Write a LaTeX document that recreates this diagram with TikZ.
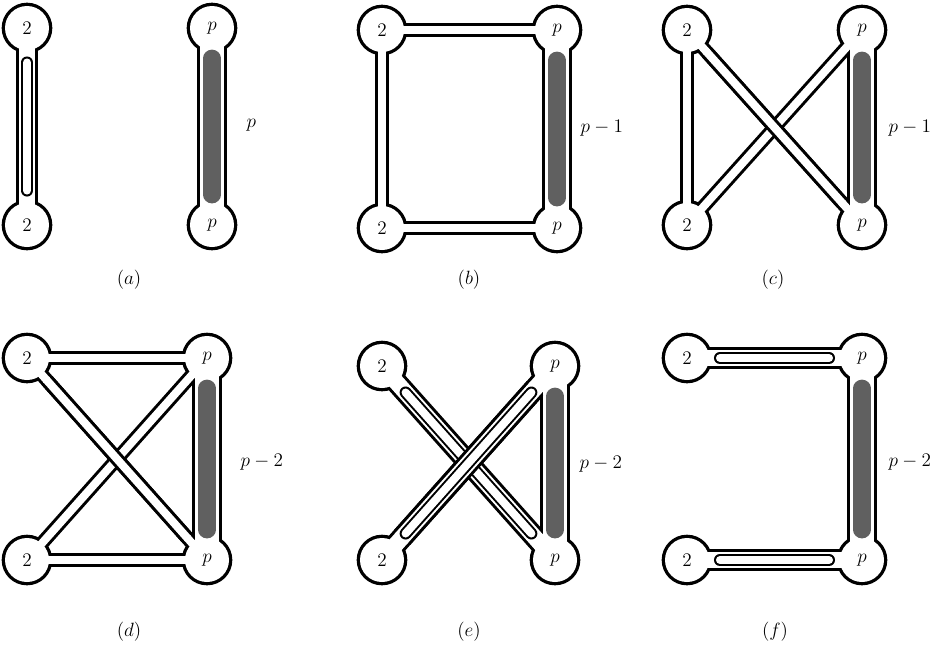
\documentclass[tikz,border=0pt]{standalone}
\usetikzlibrary{calc}
\pgfdeclarelayer{outline}
\pgfdeclarelayer{inside}
\pgfsetlayers{outline,inside,main}
\definecolor{bar}{HTML}{606060}
\tikzset{
  % text of the vertices
  vtx/.style={font=\fontsize{15}{18}\selectfont, inner sep=0pt},
  % labels and captions
  lbl/.style={font=\fontsize{15}{18}\selectfont, anchor=west},
  caption/.style={font=\fontsize{15}{18}\selectfont},
}
% vertex: black disk under, white disk over
\newcommand{\vertex}[3]{%
  \node[vtx] (#1) at (#2) {$#3$};
  \begin{pgfonlayer}{outline}\fill (#1.center) circle (19pt);\end{pgfonlayer}
  \begin{pgfonlayer}{inside}\fill[white] (#1.center) circle (16.5pt);\end{pgfonlayer}
}
% single ribbon
\newcommand{\ribbon}[2]{%
  \begin{pgfonlayer}{outline}\draw[line width=10.5pt] (#1.center) -- (#2.center);\end{pgfonlayer}
  \begin{pgfonlayer}{inside}\draw[white, line width=6pt] (#1.center) -- (#2.center);\end{pgfonlayer}
}
% ribbon passing over a crossing
\newcommand{\overribbon}[3][10.5pt]{%
  \draw[line width=#1, shorten <=17pt, shorten >=17pt] (#2) -- (#3);
  \draw[white, line width=#1-4.5pt, shorten <=16pt, shorten >=16pt] (#2) -- (#3);
}
% double ribbon
\newcommand{\wideribbon}[2]{%
  \begin{pgfonlayer}{outline}\draw[line width=16.5pt] (#1.center) -- (#2.center);\end{pgfonlayer}
  \begin{pgfonlayer}{inside}\draw[white, line width=12pt] (#1.center) -- (#2.center);\end{pgfonlayer}
}
\newcommand{\slit}[2]{%
  \draw[line width=9pt, line cap=round, shorten <=21pt, shorten >=21pt] (#1) -- (#2);
  \draw[white, line width=6pt, line cap=round, shorten <=21pt, shorten >=21pt] (#1) -- (#2);
}
% ribbon with the grey bar
\newcommand{\barribbon}[2]{%
  \begin{pgfonlayer}{outline}\draw[line width=23pt] (#1.center) -- (#2.center);\end{pgfonlayer}
  \begin{pgfonlayer}{inside}\draw[white, line width=18.5pt] (#1.center) -- (#2.center);\end{pgfonlayer}
  \draw[bar, line width=13pt, line cap=round, shorten <=18pt, shorten >=18pt] (#1) -- (#2);
}

\begin{document}
\begin{tikzpicture}[x=0.75pt, y=-0.75pt]
  \useasboundingbox (0,0) rectangle (936,662);

  % (a)
  \vertex{a1}{27,28}{2}
  \vertex{a2}{27,225}{2}
  \vertex{a3}{212,28}{p}
  \vertex{a4}{212,225}{p}
  \wideribbon{a1}{a2}
  \slit{a1}{a2}
  \barribbon{a3}{a4}
  \node[lbl] (la) at (242,125) {$p$};
  \node[caption] (ca) at (129,280) {$(a)$};

  % (b)
  \vertex{b1}{382,30}{2}
  \vertex{b2}{382,228}{2}
  \vertex{b3}{557,30}{p}
  \vertex{b4}{557,228}{p}
  \ribbon{b1}{b3}
  \ribbon{b2}{b4}
  \ribbon{b1}{b2}
  \barribbon{b3}{b4}
  \node[lbl] (lb) at (576,128) {$p-1$};
  \node[caption] (cb) at (469,280) {$(b)$};

  % (c)
  \vertex{c1}{687,30}{2}
  \vertex{c2}{687,225}{2}
  \vertex{c3}{862,30}{p}
  \vertex{c4}{862,225}{p}
  \ribbon{c1}{c2}
  \ribbon{c1}{c4}
  \ribbon{c2}{c3}
  \overribbon{c1}{c4}
  \barribbon{c3}{c4}
  \node[lbl] (lc) at (884,128) {$p-1$};
  \node[caption] (cc) at (773,280) {$(c)$};

  % (d)
  \vertex{d1}{27,358}{2}
  \vertex{d2}{27,560}{2}
  \vertex{d3}{207,358}{p}
  \vertex{d4}{207,560}{p}
  \ribbon{d1}{d3}
  \ribbon{d2}{d4}
  \ribbon{d1}{d4}
  \ribbon{d2}{d3}
  \overribbon{d1}{d4}
  \barribbon{d3}{d4}
  \node[lbl] (ld) at (236,462) {$p-2$};
  \node[caption] (cd) at (129,632) {$(d)$};

  % (e)
  \vertex{e1}{382,366}{2}
  \vertex{e2}{382,560}{2}
  \vertex{e3}{555,366}{p}
  \vertex{e4}{555,560}{p}
  \wideribbon{e1}{e4}
  \wideribbon{e2}{e3}
  \barribbon{e3}{e4}
  \slit{e1}{e4}
  \overribbon[16.5pt]{e2}{e3}
  \slit{e2}{e3}
  \node[lbl] (le) at (575,464) {$p-2$};
  \node[caption] (ce) at (469,632) {$(e)$};

  % (f)
  \vertex{f1}{687,358}{2}
  \vertex{f2}{687,560}{2}
  \vertex{f3}{862,358}{p}
  \vertex{f4}{862,560}{p}
  \wideribbon{f1}{f3}
  \wideribbon{f2}{f4}
  \slit{f1}{f3}
  \slit{f2}{f4}
  \barribbon{f3}{f4}
  \node[lbl] (lf) at (884,462) {$p-2$};
  \node[caption] (cf) at (775,632) {$(f)$};
\end{tikzpicture}
\end{document}
